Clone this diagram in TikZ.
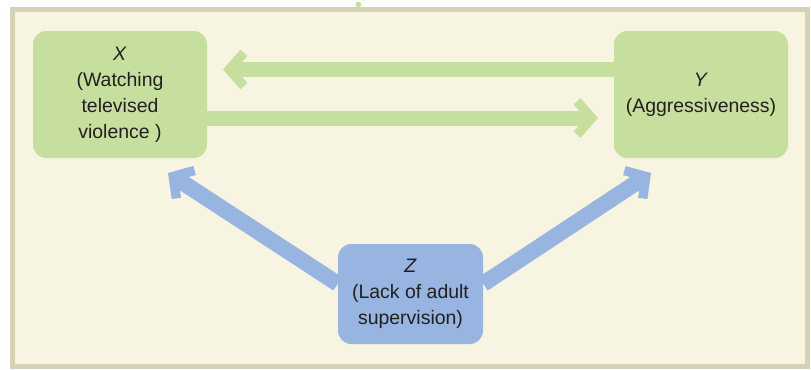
\documentclass[tikz,border=0pt]{standalone}
\usepackage{fontspec}
\setsansfont{Liberation Sans}
\usetikzlibrary{arrows.meta}
\usetikzlibrary{backgrounds}
\definecolor{bg1}{RGB}{247,244,225}
\definecolor{bg2}{RGB}{214,211,180}
\definecolor{g1}{RGB}{198,223,159}
\definecolor{b1}{RGB}{151,181,224}
\definecolor{t1}{RGB}{35,31,32}

\begin{document}
\begin{tikzpicture}[
    x=0.75pt, y=0.75pt,
    font={\sffamily\fontsize{14.6}{19.5}\selectfont},
    e/.style={
        rounded corners=10pt, inner sep=0pt, align=center, text=t1,
        minimum width=130.5pt, minimum height=95.25pt, fill=g1
    },
    eb/.style={e, fill=b1, minimum width=108.75pt, minimum height=75pt},
    ga/.style={
        line width=11.25pt, color=g1,
        -{Straight Barb[sharp, line width=7pt, length=11pt, width=25pt]}
    },
    ba/.style={ga, line width=12pt, color=b1}
]

    \useasboundingbox (0,0) rectangle (811,369);

    \begin{scope}[on background layer]
        \draw [bg2, fill=bg1, line width=3.75pt] (12.5,2.5) rectangle (807.5,359.5);
    \end{scope}
    \fill [g1] (358.5,364.5) circle (2.2pt);

    \node [e]  (X) at (120  , 274.5) {\textit{X}\\(Watching\\televised\\violence )};
    \node [e]  (Y) at (701  , 274.5) {\textit{Y}\\(Aggressiveness)};
    \node [eb] (Z) at (410.5,  75  ) {\textit{Z}\\(Lack of adult\\supervision)};

    \coordinate (xt) at (223, 299.5);
    \coordinate (yt) at (598, 251);
    \coordinate (xz) at (168, 196);
    \coordinate (yz) at (651, 196);

    \begin{scope}[on background layer]
        \draw [ga] (Y.west |- xt) -- (xt);
        \draw [ga] (X.east |- yt) -- (yt);
        \draw [ba] (Z.172) -- (xz);
        \draw [ba] (Z.8) -- (yz);
    \end{scope}

\end{tikzpicture}
\end{document}
